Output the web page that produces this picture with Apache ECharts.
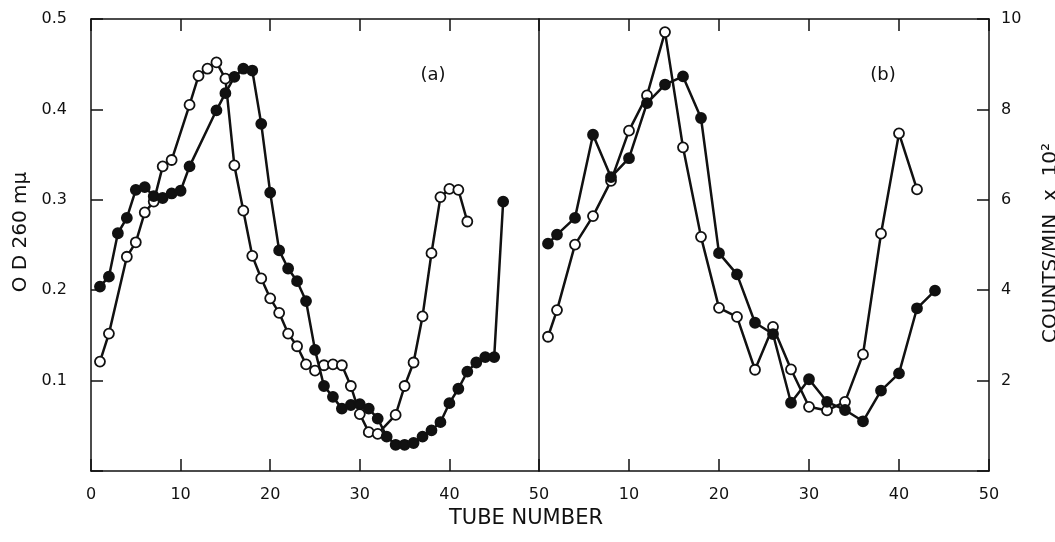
<!DOCTYPE html>
<html>
<head>
<meta charset="utf-8">
<script src="https://cdn.jsdelivr.net/npm/echarts@6/dist/echarts.min.js"></script>
<style>
html,body{margin:0;padding:0;background:#fff;}
#chart{width:1055px;height:542px;}
</style>
</head>
<body>
<div id="chart"></div>
<script>
// ---- Panel (a): OD 260 mμ ----
const tubesAFilled = [1,2,3,4,5,6,7,8,9,10,11,14,15,16,17,18,19,20,21,22,23,24,25,26,27,28,29,30,31,32,33,34,35,36,37,38,39,40,41,42,43,44,45,46];
const valuesAFilled = [0.204,0.215,0.263,0.280,0.311,0.314,0.304,0.302,0.307,0.310,0.337,0.399,0.418,0.436,0.445,0.443,0.384,0.308,0.244,0.224,0.210,0.188,0.134,0.094,0.082,0.069,0.073,0.074,0.069,0.058,0.038,0.029,0.029,0.031,0.038,0.045,0.054,0.075,0.091,0.110,0.120,0.126,0.126,0.298];
const tubesAOpen = [1,2,4,5,6,7,8,9,11,12,13,14,15,16,17,18,19,20,21,22,23,24,25,26,27,28,29,30,31,32,34,35,36,37,38,39,40,41,42];
const valuesAOpen = [0.121,0.152,0.237,0.253,0.286,0.298,0.337,0.344,0.405,0.437,0.445,0.452,0.434,0.338,0.288,0.238,0.213,0.191,0.175,0.152,0.138,0.118,0.111,0.117,0.118,0.117,0.094,0.063,0.043,0.041,0.062,0.094,0.120,0.171,0.241,0.303,0.312,0.311,0.276];

// ---- Panel (b): COUNTS/MIN x 10^2 ----
const tubesBFilled = [1,2,4,6,8,10,12,14,16,18,20,22,24,26,28,30,32,34,36,38,40,42,44];
const valuesBFilled = [5.03,5.23,5.60,7.44,6.50,6.92,8.14,8.55,8.73,7.81,4.82,4.35,3.28,3.03,1.51,2.03,1.53,1.35,1.10,1.78,2.16,3.60,3.99];
const tubesBOpen = [1,2,4,6,8,10,12,14,16,18,20,22,24,26,28,30,32,34,36,38,40,42];
const valuesBOpen = [2.97,3.56,5.01,5.64,6.42,7.53,8.31,9.71,7.16,5.18,3.61,3.41,2.24,3.19,2.25,1.42,1.34,1.53,2.58,5.25,7.47,6.23];

// ---- Axis labels / ticks ----
const xTicks = [0,10,20,30,40,50];
const yLeftTicks = [0.1,0.2,0.3,0.4,0.5];
const yRightTicks = [2,4,6,8,10];
const xTitle = 'TUBE NUMBER';
const yLeftTitle = 'O D 260 mμ';
const yRightTitle = 'COUNTS/MIN  x  10²';
const panelLabels = ['(a)','(b)'];

const FONT = 'DejaVu Sans';
const INK = '#111';

function pairs(xs, ys){ return xs.map((x,i)=>[x, ys[i]]); }

const chart = echarts.init(document.getElementById('chart'));

const axisLine = {show:true, onZero:false, lineStyle:{color:INK, width:1.5}};
const tick = {show:true, inside:true, length:12, lineStyle:{color:INK, width:1.5}};
const labelStyle = {color:INK, fontFamily:FONT, fontSize:16};

function lineSeries(data, xi, yi, filled){
  return {
    type:'line', xAxisIndex:xi, yAxisIndex:yi, data:data,
    symbol:'circle', symbolSize:10, showSymbol:true,
    lineStyle:{color:INK, width:2.5},
    itemStyle:{color: filled ? INK : '#fff', borderColor:INK, borderWidth:1.8},
    emphasis:{disabled:true}, animation:false, z: filled ? 3 : 2
  };
}

const option = {
  backgroundColor:'#fff',
  animation:false,
  grid:[
    {left:91, right:516, top:19, bottom:71},
    {left:539, right:66, top:19, bottom:71}
  ],
  xAxis:[
    {gridIndex:0, type:'value', min:0, max:50, interval:10, position:'bottom',
     axisLine:axisLine, axisTick:tick, splitLine:{show:false},
     axisLabel:Object.assign({margin:16, formatter:v=> xTicks.includes(v)? String(v):''}, labelStyle)},
    {gridIndex:0, type:'value', min:0, max:50, interval:10, position:'top',
     axisLine:axisLine, axisTick:tick, splitLine:{show:false}, axisLabel:{show:false}},
    {gridIndex:1, type:'value', min:0, max:50, interval:10, position:'bottom',
     axisLine:axisLine, axisTick:tick, splitLine:{show:false},
     axisLabel:Object.assign({margin:16, formatter:v=> (v>0 && xTicks.includes(v))? String(v):''}, labelStyle)},
    {gridIndex:1, type:'value', min:0, max:50, interval:10, position:'top',
     axisLine:axisLine, axisTick:tick, splitLine:{show:false}, axisLabel:{show:false}}
  ],
  yAxis:[
    {gridIndex:0, type:'value', min:0, max:0.5, interval:0.1, position:'left',
     axisLine:axisLine, axisTick:tick, splitLine:{show:false},
     axisLabel:Object.assign({margin:24, formatter:v=>{const s=+v.toFixed(1); return yLeftTicks.includes(s)? s.toFixed(1):'';}}, labelStyle)},
    {gridIndex:0, type:'value', min:0, max:0.5, interval:0.1, position:'right',
     axisLine:axisLine, axisTick:{show:false}, splitLine:{show:false}, axisLabel:{show:false}},
    {gridIndex:1, type:'value', min:0, max:10, interval:2, position:'right',
     axisLine:axisLine, axisTick:tick, splitLine:{show:false},
     axisLabel:Object.assign({margin:12, formatter:v=> yRightTicks.includes(v)? String(v):''}, labelStyle)}
  ],
  series:[
    lineSeries(pairs(tubesAOpen, valuesAOpen), 0, 0, false),
    lineSeries(pairs(tubesAFilled, valuesAFilled), 0, 0, true),
    lineSeries(pairs(tubesBOpen, valuesBOpen), 2, 2, false),
    lineSeries(pairs(tubesBFilled, valuesBFilled), 2, 2, true)
  ],
  graphic:[
    {type:'text', x:526, y:519, style:{text:xTitle, fill:INK, font:'21px "'+FONT+'"', textAlign:'center', textVerticalAlign:'middle'}},
    {type:'text', rotation:Math.PI/2, x:21, y:232, style:{text:yLeftTitle, fill:INK, font:'20px "'+FONT+'"', textAlign:'center', textVerticalAlign:'middle'}},
    {type:'text', rotation:Math.PI/2, x:1051, y:243, style:{text:yRightTitle, fill:INK, font:'20px "'+FONT+'"', textAlign:'center', textVerticalAlign:'middle'}},
    {type:'text', x:433, y:75, style:{text:panelLabels[0], fill:INK, font:'18px "'+FONT+'"', textAlign:'center', textVerticalAlign:'middle'}},
    {type:'text', x:883, y:75, style:{text:panelLabels[1], fill:INK, font:'18px "'+FONT+'"', textAlign:'center', textVerticalAlign:'middle'}}
  ]
};
chart.setOption(option);
</script>
</body>
</html>
